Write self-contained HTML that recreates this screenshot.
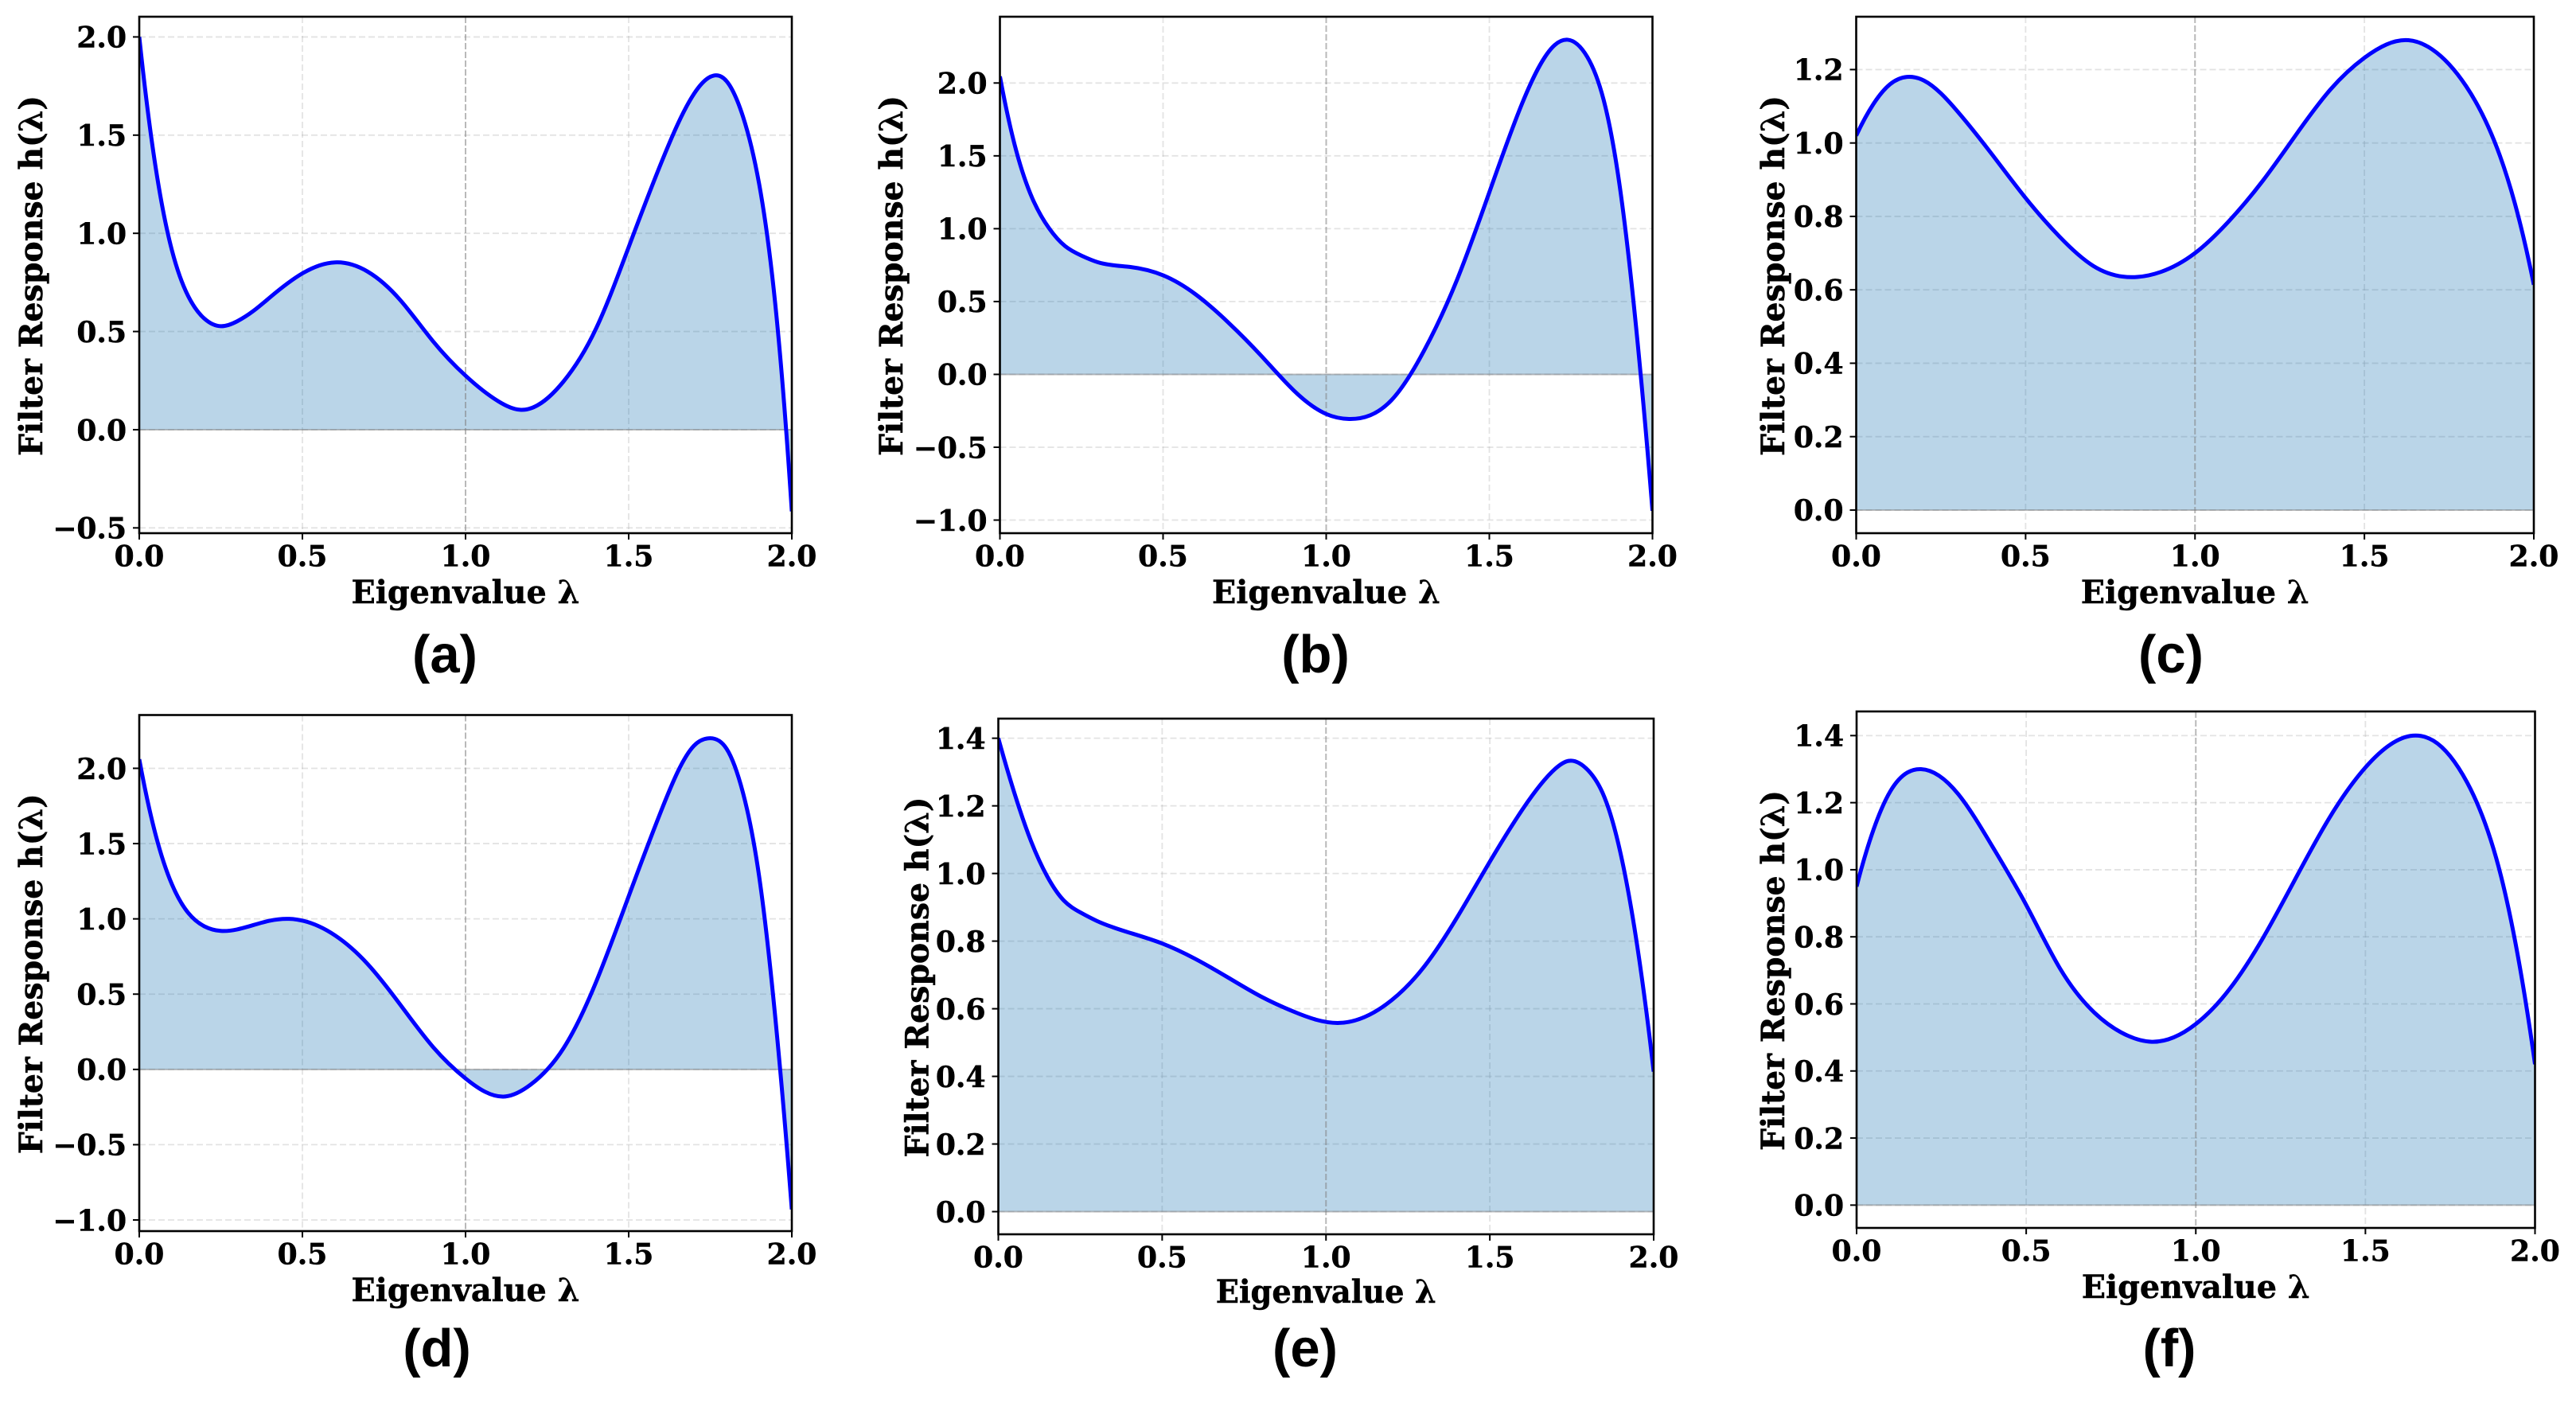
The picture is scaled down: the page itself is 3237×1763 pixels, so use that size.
<!DOCTYPE html>
<html lang="en">
<head>
<meta charset="utf-8">
<title>Filter response panels</title>
<style>
html,body{margin:0;padding:0;background:#fff;}
svg{display:block;}
text{font-family:"DejaVu Serif","Liberation Serif",serif;font-weight:700;fill:#000;stroke:#000;stroke-width:0.5px;}
text.panel-caption{font-family:"Liberation Sans","Noto Sans CJK SC",sans-serif;font-weight:700;stroke:none;}
</style>
</head>
<body>
<svg id="figure" xmlns="http://www.w3.org/2000/svg" width="3237" height="1763" viewBox="0 0 3237 1763">
<rect x="0" y="0" width="3237" height="1763" fill="#fff"/>
</svg>
<script>
const xTickLabels = ["0.0", "0.5", "1.0", "1.5", "2.0"];

const lambdaA = [0,0.05,0.1,0.15,0.2,0.25,0.3,0.35,0.4,0.5,0.6,0.7,0.8,0.9,1.0,1.1,1.17,1.3,1.4,1.5,1.6,1.7,1.76,1.8,1.85,1.9,1.95,2.0];
const responseA = [2.0,1.338,0.914,0.68,0.565,0.527,0.552,0.605,0.673,0.796,0.852,0.805,0.66,0.451,0.275,0.145,0.101,0.245,0.515,0.93,1.36,1.71,1.803,1.775,1.596,1.25,0.628,-0.416];
const yTicksA = ["2.0","1.5","1.0","0.5","0.0","-0.5"];

const lambdaB = [0,0.05,0.1,0.15,0.2,0.25,0.3,0.4,0.5,0.6,0.7,0.8,0.9,1.0,1.07,1.2,1.3,1.4,1.5,1.6,1.7,1.74,1.8,1.85,1.9,1.95,2.0];
const responseB = [2.045,1.535,1.205,1.005,0.88,0.815,0.77,0.737,0.68,0.549,0.356,0.13,-0.109,-0.272,-0.306,-0.177,0.163,0.644,1.25,1.857,2.26,2.297,2.18,1.887,1.286,0.32,-0.936];
const yTicksB = ["2.0","1.5","1.0","0.5","0.0","-0.5","-1.0"];

const lambdaC = [0,0.05,0.1,0.15,0.2,0.3,0.4,0.5,0.6,0.7,0.83,0.9,1.0,1.1,1.2,1.3,1.4,1.5,1.63,1.7,1.8,1.9,1.95,2.0];
const responseC = [1.02,1.105,1.16,1.18,1.17,1.085,0.97,0.85,0.745,0.665,0.635,0.649,0.70,0.787,0.897,1.025,1.146,1.232,1.28,1.255,1.155,0.965,0.815,0.614];
const yTicksC = ["1.2","1.0","0.8","0.6","0.4","0.2","0.0"];

const lambdaD = [0,0.05,0.1,0.15,0.2,0.25,0.3,0.4,0.46,0.6,0.7,0.8,0.9,1.0,1.12,1.2,1.3,1.4,1.5,1.6,1.7,1.75,1.8,1.85,1.9,1.95,2.0];
const responseD = [2.06,1.56,1.23,1.04,0.95,0.92,0.93,0.988,1.0,0.89,0.70,0.43,0.15,-0.06,-0.18,-0.10,0.14,0.58,1.15,1.72,2.15,2.2,2.13,1.84,1.28,0.33,-0.93];
const yTicksD = ["2.0","1.5","1.0","0.5","0.0","-0.5","-1.0"];

const lambdaE = [0,0.05,0.1,0.15,0.2,0.25,0.3,0.4,0.5,0.6,0.7,0.8,0.9,1.04,1.2,1.3,1.4,1.5,1.6,1.7,1.74,1.8,1.85,1.9,1.95,2.0];
const responseE = [1.40,1.235,1.095,0.99,0.92,0.885,0.86,0.825,0.793,0.748,0.693,0.637,0.592,0.558,0.625,0.725,0.87,1.035,1.19,1.31,1.333,1.305,1.225,1.055,0.785,0.414];
const yTicksE = ["1.4","1.2","1.0","0.8","0.6","0.4","0.2","0.0"];

const lambdaF = [0,0.05,0.1,0.15,0.19,0.3,0.4,0.5,0.6,0.7,0.8,0.87,1.0,1.1,1.2,1.3,1.4,1.5,1.64,1.7,1.8,1.9,1.95,2.0];
const responseF = [0.95,1.12,1.235,1.29,1.30,1.225,1.07,0.895,0.705,0.575,0.505,0.487,0.54,0.645,0.80,0.985,1.165,1.305,1.40,1.385,1.26,0.98,0.74,0.42];
const yTicksF = ["1.4","1.2","1.0","0.8","0.6","0.4","0.2","0.0"];

const panelA = {id:"a", lambda:lambdaA, response:responseA, yTicks:yTicksA, yMin:-0.527, yMax:2.103};
const panelB = {id:"b", lambda:lambdaB, response:responseB, yTicks:yTicksB, yMin:-1.09, yMax:2.455};
const panelC = {id:"c", lambda:lambdaC, response:responseC, yTicks:yTicksC, yMin:-0.063, yMax:1.344};
const panelD = {id:"d", lambda:lambdaD, response:responseD, yTicks:yTicksD, yMin:-1.074, yMax:2.354};
const panelE = {id:"e", lambda:lambdaE, response:responseE, yTicks:yTicksE, yMin:-0.067, yMax:1.458};
const panelF = {id:"f", lambda:lambdaF, response:responseF, yTicks:yTicksF, yMin:-0.068, yMax:1.472};

panelA.box = {left:175, right:995, top:21, bottom:670, yLabelX:53, xLabelLen:287, xLabelDy:88, capX:559, capY:845};
panelB.box = {left:1256.5, right:2076.5, top:21, bottom:670, yLabelX:1134, xLabelLen:287, xLabelDy:88, capX:1653, capY:845};
panelC.box = {left:2332.5, right:3184, top:21, bottom:670, yLabelX:2242, xLabelLen:287, xLabelDy:88, capX:2728, capY:845};
panelD.box = {left:175, right:995, top:898.5, bottom:1547, yLabelX:53, xLabelLen:287, xLabelDy:88, capX:549, capY:1717};
panelE.box = {left:1254.5, right:2078, top:903, bottom:1551, yLabelX:1166.5, xLabelLen:277, xLabelDy:86, capX:1640, capY:1717};
panelF.box = {left:2333, right:3185.5, top:894, bottom:1543, yLabelX:2242, xLabelLen:287, xLabelDy:88, capX:2726, capY:1717};

const panels = [panelA, panelB, panelC, panelD, panelE, panelF];
const SVG_NS = "http://www.w3.org/2000/svg";
const figure = document.getElementById("figure");

function make(tag, parent, props) {
  const node = document.createElementNS(SVG_NS, tag);
  for (const key in props) node.setAttribute(key, props[key]);
  parent.appendChild(node);
  return node;
}

function splineSlopes(xs, ys) {
  const n = xs.length;
  const h = [];
  const d = [];
  for (let i = 0; i < n - 1; i++) {
    h.push(xs[i + 1] - xs[i]);
    d.push((ys[i + 1] - ys[i]) / h[i]);
  }
  const a = new Array(n).fill(0);
  const b = new Array(n).fill(1);
  const c = new Array(n).fill(0);
  const r = new Array(n).fill(0);
  c[0] = -1;
  a[n - 1] = -1;
  for (let i = 1; i < n - 1; i++) {
    a[i] = h[i - 1];
    b[i] = 2 * (h[i - 1] + h[i]);
    c[i] = h[i];
    r[i] = 6 * (d[i] - d[i - 1]);
  }
  for (let i = 1; i < n; i++) {
    const m = a[i] / b[i - 1];
    b[i] -= m * c[i - 1];
    r[i] -= m * r[i - 1];
  }
  const M = new Array(n).fill(0);
  M[n - 1] = r[n - 1] / b[n - 1];
  for (let i = n - 2; i >= 0; i--) M[i] = (r[i] - c[i] * M[i + 1]) / b[i];
  const s = [];
  for (let i = 0; i < n - 1; i++) s.push(d[i] - h[i] * (2 * M[i] + M[i + 1]) / 6);
  s.push(d[n - 2] + h[n - 2] * (M[n - 2] + 2 * M[n - 1]) / 6);
  return s;
}

function splinePath(xs, ys, sx, sy) {
  const n = xs.length;
  const slope = splineSlopes(xs, ys);
  let d = "M" + sx(xs[0]).toFixed(2) + " " + sy(ys[0]).toFixed(2);
  for (let i = 0; i < n - 1; i++) {
    const h = xs[i + 1] - xs[i];
    const c1x = sx(xs[i] + h / 3);
    const c1y = sy(ys[i] + slope[i] * h / 3);
    const c2x = sx(xs[i + 1] - h / 3);
    const c2y = sy(ys[i + 1] - slope[i + 1] * h / 3);
    d += "C" + c1x.toFixed(2) + " " + c1y.toFixed(2) + " " + c2x.toFixed(2) + " " + c2y.toFixed(2) + " " + sx(xs[i + 1]).toFixed(2) + " " + sy(ys[i + 1]).toFixed(2);
  }
  return d;
}

panels.forEach(function (p) {
  const b = p.box;
  const xScale = function (v) { return b.left + (v / 2) * (b.right - b.left); };
  const yScale = function (v) { return b.bottom - ((v - p.yMin) / (p.yMax - p.yMin)) * (b.bottom - b.top); };

  const group = make("g", figure, {});
  
  

  const clip = make("clipPath", group, {id: "clip-" + p.id});
  make("rect", clip, {x: b.left, y: b.top, width: b.right - b.left, height: b.bottom - b.top});

  const plotBg = make("rect", group, {x: b.left, y: b.top, width: b.right - b.left, height: b.bottom - b.top, fill: "#fff"});
  
  

  xTickLabels.forEach(function (label) {
    const v = parseFloat(label);
    const px = xScale(v);
    if (v > 0 && v < 2 && v !== 1) {
      const grid = make("line", group, {x1: px, x2: px, y1: b.top, y2: b.bottom, stroke: "#b0b0b0", "stroke-opacity": 0.35, "stroke-width": 1.8, "stroke-dasharray": "8 4"});
      
      
    }
  });

  p.yTicks.forEach(function (label) {
    const py = yScale(parseFloat(label));
    const grid = make("line", group, {x1: b.left, x2: b.right, y1: py, y2: py, stroke: "#b0b0b0", "stroke-opacity": 0.35, "stroke-width": 1.8, "stroke-dasharray": "8 4"});
    
    
  });

  const curve = splinePath(p.lambda, p.response, xScale, yScale);
  const zero = yScale(0);

  const area = make("path", group, {d: curve + "L" + xScale(2) + " " + zero + "L" + xScale(0) + " " + zero + "Z", fill: "#1f77b4", "fill-opacity": 0.31, "clip-path": "url(#clip-" + p.id + ")"});
  
  

  const zeroLine = make("line", group, {x1: b.left, x2: b.right, y1: zero, y2: zero, stroke: "#808080", "stroke-opacity": 0.5, "stroke-width": 2});
  
  

  const midLine = make("line", group, {x1: xScale(1), x2: xScale(1), y1: b.top, y2: b.bottom, stroke: "#808080", "stroke-opacity": 0.55, "stroke-width": 2, "stroke-dasharray": "8 3"});
  
  

  const line = make("path", group, {d: curve, fill: "none", stroke: "#0000ff", "stroke-width": 5, "stroke-linejoin": "round", "clip-path": "url(#clip-" + p.id + ")"});
  
  

  const frame = make("rect", group, {x: b.left, y: b.top, width: b.right - b.left, height: b.bottom - b.top, fill: "none", stroke: "#000", "stroke-width": 2.6});
  
  

  xTickLabels.forEach(function (label) {
    const px = xScale(parseFloat(label));
    const tick = make("line", group, {x1: px, x2: px, y1: b.bottom, y2: b.bottom + 8, stroke: "#000", "stroke-width": 2});
    
    
    const text = make("text", group, {x: px, y: b.bottom + 41.5, "text-anchor": "middle", "font-size": 36});
    text.textContent = label;
    
    
  });

  p.yTicks.forEach(function (label) {
    const py = yScale(parseFloat(label));
    const tick = make("line", group, {x1: b.left - 8, x2: b.left, y1: py, y2: py, stroke: "#000", "stroke-width": 2});
    
    
    const text = make("text", group, {x: b.left - 16, y: py + 13.3, "text-anchor": "end", "font-size": 36});
    text.textContent = label.replace("-", "\u2212");
    
    
  });

  const xTitle = make("text", group, {x: (b.left + b.right) / 2, y: b.bottom + b.xLabelDy, "text-anchor": "middle", "font-size": 40, textLength: b.xLabelLen, lengthAdjust: "spacingAndGlyphs"});
  xTitle.textContent = "Eigenvalue \u03bb";
  
  

  const midY = (b.top + b.bottom) / 2 + 1;
  const yTitle = make("text", group, {x: 0, y: 0, transform: "translate(" + b.yLabelX + " " + midY + ") rotate(-90)", "text-anchor": "middle", "font-size": 40, textLength: 453, lengthAdjust: "spacingAndGlyphs"});
  yTitle.textContent = "Filter Response h(\u03bb)";
  
  

  const caption = make("text", group, {x: b.capX, y: b.capY, "text-anchor": "middle", "font-size": 67, "class": "panel-caption"});
  caption.textContent = "(" + p.id + ")";
  
  
});
</script>
</body>
</html>
